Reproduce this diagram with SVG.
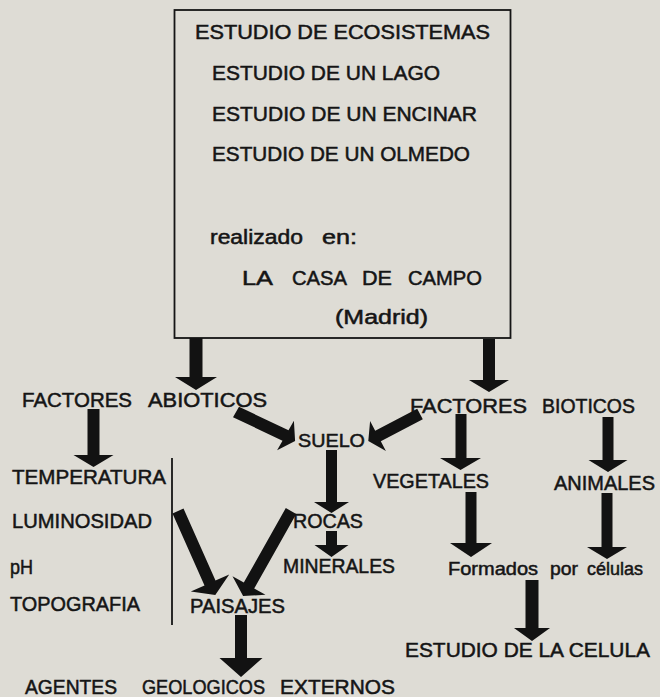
<svg xmlns="http://www.w3.org/2000/svg" width="660" height="697" viewBox="0 0 660 697">
<style>
.t{font-family:"Liberation Sans",Arial,sans-serif;font-size:20px;fill:#151515;stroke:#151515;stroke-width:0.5}
.s{font-size:18px}
.a{fill:#121212}
.ln{fill:none;stroke:#151515;stroke-width:1.8}
</style>
<rect x="0" y="0" width="660" height="697" fill="#dedcd5"/>
<g id="box">
<rect class="ln" x="174.5" y="10" width="336" height="328"/>
<text class="t" x="195" y="39" textLength="295" lengthAdjust="spacingAndGlyphs">ESTUDIO DE ECOSISTEMAS</text>
<text class="t" x="212" y="80" textLength="228" lengthAdjust="spacingAndGlyphs">ESTUDIO DE UN LAGO</text>
<text class="t" x="212" y="121" textLength="265" lengthAdjust="spacingAndGlyphs">ESTUDIO DE UN ENCINAR</text>
<text class="t" x="212" y="161" textLength="258" lengthAdjust="spacingAndGlyphs">ESTUDIO DE UN OLMEDO</text>
<text class="t" x="210" y="244" textLength="93" lengthAdjust="spacingAndGlyphs">realizado</text>
<text class="t" x="322" y="244" textLength="35" lengthAdjust="spacingAndGlyphs">en:</text>
<text class="t" x="242" y="285" textLength="31" lengthAdjust="spacingAndGlyphs">LA</text>
<text class="t" x="292" y="285" textLength="55" lengthAdjust="spacingAndGlyphs">CASA</text>
<text class="t" x="362" y="285" textLength="30" lengthAdjust="spacingAndGlyphs">DE</text>
<text class="t" x="408" y="285" textLength="74" lengthAdjust="spacingAndGlyphs">CAMPO</text>
<text class="t" x="335" y="324" textLength="93" lengthAdjust="spacingAndGlyphs">(Madrid)</text>
</g>
<g id="abioticos">
<text class="t" x="22" y="407" textLength="110" lengthAdjust="spacingAndGlyphs">FACTORES</text>
<text class="t" x="148" y="407" textLength="119" lengthAdjust="spacingAndGlyphs">ABIOTICOS</text>
</g>
<g id="bioticos">
<text class="t" x="410" y="413" textLength="117" lengthAdjust="spacingAndGlyphs">FACTORES</text>
<text class="t" x="542" y="413" textLength="93" lengthAdjust="spacingAndGlyphs">BIOTICOS</text>
</g>
<g id="suelo"><text class="t s" x="298" y="447" textLength="67" lengthAdjust="spacingAndGlyphs">SUELO</text></g>
<g id="factores-lista">
<text class="t" x="12" y="484" textLength="154" lengthAdjust="spacingAndGlyphs">TEMPERATURA</text>
<text class="t" x="12" y="528" textLength="140" lengthAdjust="spacingAndGlyphs">LUMINOSIDAD</text>
<text class="t" x="10" y="574" textLength="23" lengthAdjust="spacingAndGlyphs">pH</text>
<text class="t" x="10" y="611" textLength="130" lengthAdjust="spacingAndGlyphs">TOPOGRAFIA</text>
<line class="ln" x1="172" y1="458" x2="172" y2="625" stroke-width="1.5"/>
</g>
<g id="rocas"><text class="t" x="293" y="528" textLength="70" lengthAdjust="spacingAndGlyphs">ROCAS</text></g>
<g id="minerales"><text class="t" x="283" y="573" textLength="112" lengthAdjust="spacingAndGlyphs">MINERALES</text></g>
<g id="paisajes"><text class="t" x="190" y="613" textLength="95" lengthAdjust="spacingAndGlyphs">PAISAJES</text></g>
<g id="agentes">
<text class="t" x="25" y="694" textLength="92" lengthAdjust="spacingAndGlyphs">AGENTES</text>
<text class="t" x="142" y="694" textLength="123" lengthAdjust="spacingAndGlyphs">GEOLOGICOS</text>
<text class="t" x="280" y="694" textLength="115" lengthAdjust="spacingAndGlyphs">EXTERNOS</text>
</g>
<g id="vegetales"><text class="t" x="373" y="488" textLength="116" lengthAdjust="spacingAndGlyphs">VEGETALES</text></g>
<g id="animales"><text class="t" x="554" y="490" textLength="101" lengthAdjust="spacingAndGlyphs">ANIMALES</text></g>
<g id="formados">
<text class="t s" x="448" y="575" textLength="90" lengthAdjust="spacingAndGlyphs">Formados</text>
<text class="t s" x="550" y="575" textLength="28" lengthAdjust="spacingAndGlyphs">por</text>
<text class="t s" x="587" y="575" textLength="56" lengthAdjust="spacingAndGlyphs">células</text>
</g>
<g id="celula"><text class="t" x="405" y="657" textLength="245" lengthAdjust="spacingAndGlyphs">ESTUDIO DE LA CELULA</text></g>
<g id="connectors">
<polygon class="a" points="189.5,338 202.5,338 202.5,377 217,377 196,390 175,377 189.5,377"/>
<polygon class="a" points="483,339 495,339 495,380 509,380 489,392 469,380 483,380"/>
<polygon class="a" points="87.5,409 99.5,409 99.5,455 113.5,455 93.5,467 73.5,455 87.5,455"/>
<polygon class="a" points="326,450 337,450 337,502 349,502 331.5,513 314,502 326,502"/>
<polygon class="a" points="326,531 337,531 337,545 348.5,545 331.5,557 314.5,545 326,545"/>
<polygon class="a" points="235,615 247,615 247,658 262.5,658 241,677 219.5,658 235,658"/>
<polygon class="a" points="455.5,414 466.5,414 466.5,458 481,458 460.5,470 440,458 455.5,458"/>
<polygon class="a" points="602.5,417 613.5,417 613.5,460 627.5,460 608,472 588.5,460 602.5,460"/>
<polygon class="a" points="465.5,492 476.5,492 476.5,543 492,543 471,557 450,543 465.5,543"/>
<polygon class="a" points="601.5,493 612.5,493 612.5,547 627,547 607,559 587,547 601.5,547"/>
<polygon class="a" points="525.5,580 538.5,580 538.5,628 550,628 532,641 514,628 525.5,628"/>
<polygon class="a" points="233,417.2 282.5,440.7 277.1,450.3 295.1,440.9 293.9,420.7 288.5,430.3 239,406.8"/>
<polygon class="a" points="417.2,408.7 375.2,430.7 370.1,420.9 368.3,441.1 385.9,451.1 380.8,441.3 422.8,419.3"/>
<polygon class="a" points="172.5,513.4 204.5,585.4 190.8,591.5 215.3,594.9 229.2,574.5 215.5,580.6 183.5,508.6"/>
<polygon class="a" points="285.8,508.1 243.8,582.6 232.5,576.2 243.1,596.0 265.5,594.8 254.2,588.4 296.2,513.9"/>
</g>
</svg>
